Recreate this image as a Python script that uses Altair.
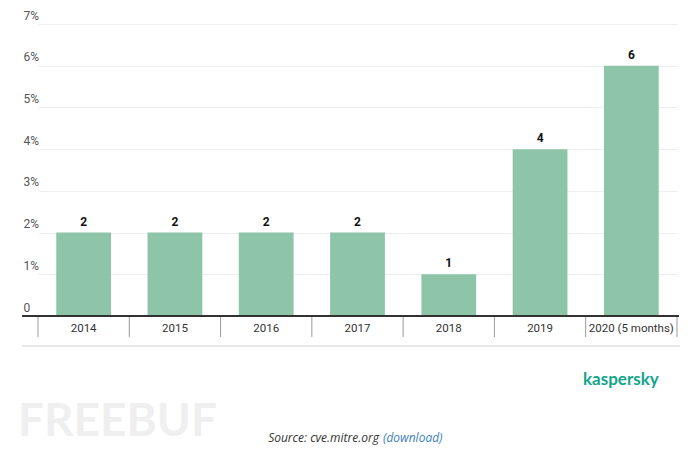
import altair as alt
import pandas as pd

years = ["2014", "2015", "2016", "2017", "2018", "2019", "2020 (5 months)"]
counts = [2, 2, 2, 2, 1, 4, 6]
y_ticks = [0, 1, 2, 3, 4, 5, 6, 7]

df = pd.DataFrame({"year": years, "count": counts})

W, H = 639, 292
BAR = "#8ec4a8"

x_enc = alt.X(
    "year:N",
    sort=years,
    scale=alt.Scale(paddingInner=0, paddingOuter=0),
    axis=alt.Axis(
        title=None, domain=False, ticks=False, labelPadding=6,
        labelFont="Roboto", labelFontSize=11.5, labelColor="#333",
        labelAngle=0, grid=False,
    ),
)
y_enc = alt.Y(
    "count:Q",
    scale=alt.Scale(domain=[0, 7], nice=False),
    axis=alt.Axis(
        title=None, values=y_ticks, domain=False, ticks=False, tickSize=0,
        labelAlign="left", labelBaseline="bottom", labelPadding=15, labelOffset=-2,
        labelFont="Roboto", labelFontSize=12, labelColor="#555",
        labelExpr="datum.value == 0 ? '0' : datum.value + '%'",
        gridColor="#eeeeee", gridWidth=1,
    ),
)

base = alt.Chart(df)

bars = base.mark_bar(color=BAR, width=alt.RelativeBandSize(0.6)).encode(x=x_enc, y=y_enc)

labels = base.mark_text(
    dy=-4, baseline="bottom", font="Roboto", fontSize=12, fontWeight="bold", color="#111"
).encode(x=alt.X("year:N", sort=years), y="count:Q", text="count:Q")

ticks = base.mark_rule(color="#9a9a9a", strokeWidth=1).encode(
    x=alt.X("year:N", sort=years, bandPosition=0),
    y=alt.value(H), y2=alt.value(H + 21),
)
last_tick = base.transform_filter(alt.datum.year == years[-1]).mark_rule(
    color="#9a9a9a", strokeWidth=1
).encode(
    x=alt.X("year:N", sort=years, bandPosition=1),
    y=alt.value(H), y2=alt.value(H + 21),
)

baseline = base.mark_rule(color="#333", strokeWidth=1.5).encode(
    x=alt.value(-16), x2=alt.value(W + 2), y=alt.value(H)
)
sep = base.mark_rule(color="#e6e6e6", strokeWidth=1).encode(
    x=alt.value(-16), x2=alt.value(W + 3), y=alt.value(H + 30)
)

ann = alt.Chart(pd.DataFrame({"a": [0]}))
kasp = ann.mark_text(
    text="kaspersky", font="Lato", fontSize=17, fontWeight="bold",
    color="#12a58a", align="left", baseline="middle",
).encode(x=alt.value(545), y=alt.value(356))
src1 = ann.mark_text(
    text="Source: cve.mitre.org", font="Open Sans", fontSize=12, fontStyle="italic",
    color="#333", align="right", baseline="middle",
).encode(x=alt.value(341), y=alt.value(414))
src2 = ann.mark_text(
    text="(download)", font="Open Sans", fontSize=12, fontStyle="italic",
    color="#3b7fc0", align="left", baseline="middle",
).encode(x=alt.value(345), y=alt.value(414))
wm = ann.mark_text(
    text="FREEBUF", font="Lato", fontSize=46, fontWeight="bold",
    color="#efefef", align="left", baseline="middle",
).encode(x=alt.value(-20), y=alt.value(398))

chart = alt.layer(
    wm, sep, bars, labels, ticks, last_tick, baseline, kasp, src1, src2
).properties(
    width=W, height=H,
    autosize=alt.AutoSizeParams(type="none"),
    padding={"left": 38, "top": 24, "right": 13, "bottom": 134},
).configure(background="white", view=alt.ViewConfig(stroke=None))

chart.save("out.html", embed_options={"renderer": "svg", "actions": False})
